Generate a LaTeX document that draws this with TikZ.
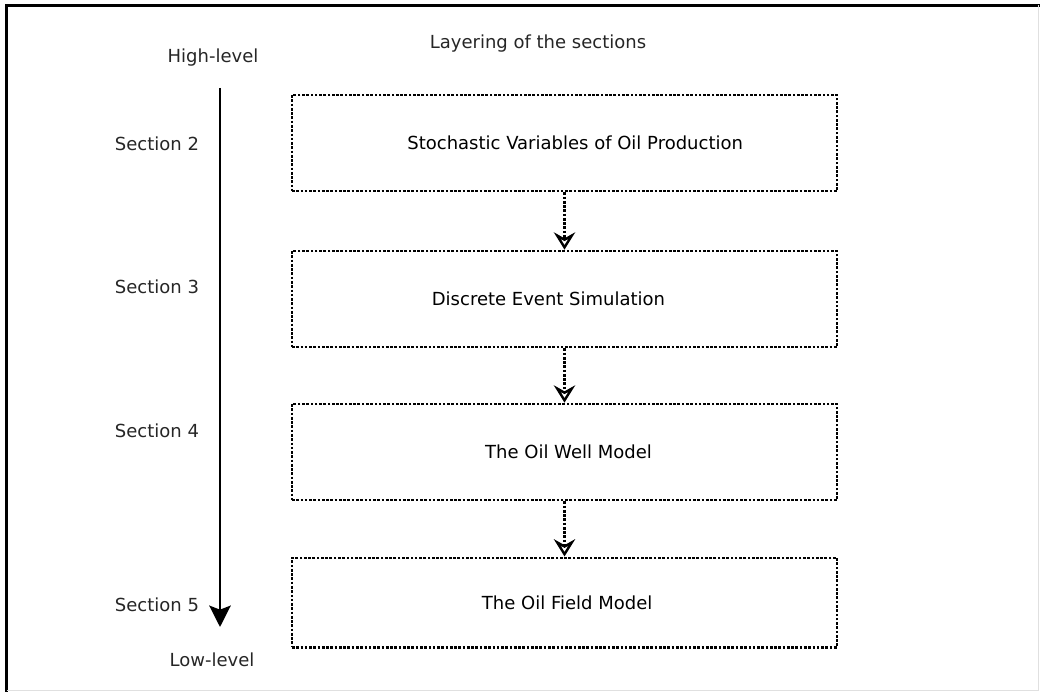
\documentclass[tikz,border=0pt]{standalone}
\usepackage{fontspec}
\setmainfont{DejaVu Sans}
\usepackage{tikz}
\usetikzlibrary{arrows.meta,positioning}
\tikzset{%
	layerbox/.style = {draw, line width=2pt, dash pattern=on 2pt off 1.2pt, rectangle, minimum width=408.75pt, minimum height=72pt, text centered},
	seclabel/.style = {text=black!85},
	flow/.style     = {line width=2pt, dash pattern=on 2pt off 1.2pt, -{Stealth[open,length=13pt,width=16pt,inset=4.5pt,line width=1.8pt]}},
	levelarrow/.style = {line width=2.2pt, -{Stealth[length=16pt,width=16pt,inset=3pt]}},
}

\begin{document}
\begin{tikzpicture}[x=0.75pt,y=-0.75pt,font=\fontsize{13.5}{16}\selectfont]
	\useasboundingbox (0,0) rectangle (1040,692);
	% frame
	\draw[line width=2.25pt] (6.5,692) -- (6.5,5.3) -- (1040,5.3);
	\draw[black!12,line width=0.75pt] (6.5,690.5) -- (1038.5,690.5) -- (1038.5,5.3);
	% title and levels
	\node[seclabel] (title) at (538,44) {Layering of the sections};
	\node[seclabel] (high) at (213,58) {High-level};
	\node[seclabel] (low) at (212,660) {Low-level};
	\coordinate (top) at (220,88);
	\coordinate (bot) at (220,627);
	\draw[levelarrow] (top) -- (bot);
	% sections
	\node[seclabel] (sec2) at (157,144) {Section 2};
	\node[seclabel] (sec3) at (157,287) {Section 3};
	\node[seclabel] (sec4) at (157,431) {Section 4};
	\node[seclabel] (sec5) at (157,605) {Section 5};
	% layers
	\node[layerbox] (stoch) at (564.5,143) {\hspace*{16pt}Stochastic Variables of Oil Production};
	\node[layerbox] (des) at (564.5,299) {Discrete Event Simulation\hspace*{24pt}};
	\node[layerbox] (well) at (564.5,452) {\hspace*{6pt}The Oil Well Model};
	\node[layerbox,minimum height=67pt] (field) at (564.5,602.5) {\hspace*{4pt}The Oil Field Model};
	\draw[flow] (stoch) -- (des);
	\draw[flow] (des) -- (well);
	\draw[flow] (well) -- (field);
\end{tikzpicture}
\end{document}
